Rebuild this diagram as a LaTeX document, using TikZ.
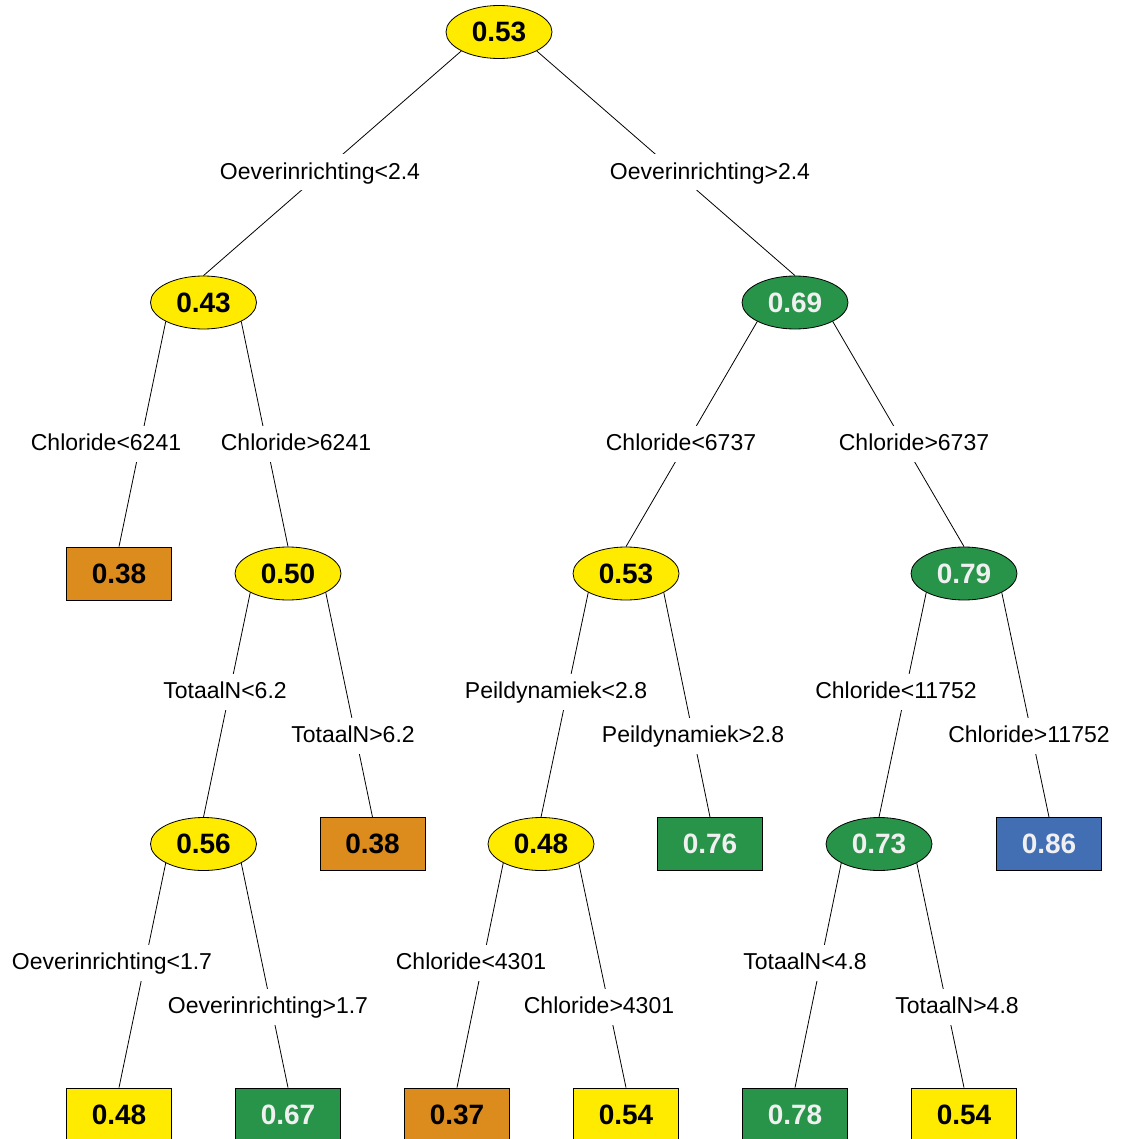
\documentclass[tikz,border=0pt]{standalone}
\usepackage{fontspec}
\setmainfont{Liberation Sans}
\usetikzlibrary{shapes.geometric}
\definecolor{cyel}{HTML}{FFEB00}
\definecolor{corg}{HTML}{DB8C1C}
\definecolor{cgrn}{HTML}{27944A}
\definecolor{cblu}{HTML}{426EB4}
\definecolor{cwht}{HTML}{F0F0F0}
\begin{document}
\begin{tikzpicture}[x=1pt,y=-1pt,
  inner/.style={ellipse,draw,line width=0.8pt,minimum width=106pt,minimum height=53pt,inner sep=0pt,font=\fontsize{28}{30}\selectfont\bfseries},
  leafbox/.style={rectangle,draw,line width=0.8pt,minimum width=105pt,minimum height=53pt,inner sep=0pt,font=\fontsize{28}{30}\selectfont\bfseries},
  yel/.style={fill=cyel,text=black},
  org/.style={fill=corg,text=black},
  grn/.style={fill=cgrn,text=cwht},
  blu/.style={fill=cblu,text=cwht},
  split/.style={fill=white,inner xsep=2pt,inner ysep=0pt,text height=25pt,text depth=11pt,yshift=-1.5pt,font=\fontsize{23}{26}\selectfont},
  branch/.style={line width=0.8pt}]
\useasboundingbox (0,0) rectangle (1120,1139);
% internal nodes
\node[inner,yel] (n0) at (499,32) {0.53};
\node[inner,yel] (n1) at (203.5,302.5) {0.43};
\node[inner,grn] (n2) at (795,302.5) {0.69};
\node[inner,yel] (n3) at (288,573.5) {0.50};
\node[inner,yel] (n4) at (626,573.5) {0.53};
\node[inner,grn] (n5) at (964,573.5) {0.79};
\node[inner,yel] (n6) at (203.5,844) {0.56};
\node[inner,yel] (n7) at (541,844) {0.48};
\node[inner,grn] (n8) at (879,844) {0.73};
% leaves
\node[leafbox,org] (l1) at (119,573.5) {0.38};
\node[leafbox,org] (l2) at (372.5,844) {0.38};
\node[leafbox,grn] (l3) at (710,844) {0.76};
\node[leafbox,blu] (l4) at (1049,844) {0.86};
\node[leafbox,yel] (l5) at (119,1114.5) {0.48};
\node[leafbox,grn] (l6) at (288,1114.5) {0.67};
\node[leafbox,org] (l7) at (457,1114.5) {0.37};
\node[leafbox,yel] (l8) at (626,1114.5) {0.54};
\node[leafbox,grn] (l9) at (795,1114.5) {0.78};
\node[leafbox,yel] (l10) at (964,1114.5) {0.54};
% branches
\draw[branch] (n0.south west) -- (n1.north);
\draw[branch] (n0.south east) -- (n2.north);
\draw[branch] (n1.south west) -- (l1.north);
\draw[branch] (n1.south east) -- (n3.north);
\draw[branch] (n2.south west) -- (n4.north);
\draw[branch] (n2.south east) -- (n5.north);
\draw[branch] (n3.south west) -- (n6.north);
\draw[branch] (n3.south east) -- (l2.north);
\draw[branch] (n4.south west) -- (n7.north);
\draw[branch] (n4.south east) -- (l3.north);
\draw[branch] (n5.south west) -- (n8.north);
\draw[branch] (n5.south east) -- (l4.north);
\draw[branch] (n6.south west) -- (l5.north);
\draw[branch] (n6.south east) -- (l6.north);
\draw[branch] (n7.south west) -- (l7.north);
\draw[branch] (n7.south east) -- (l8.north);
\draw[branch] (n8.south west) -- (l9.north);
\draw[branch] (n8.south east) -- (l10.north);
% split labels
\node[split] (s1) at (320,171) {Oeverinrichting<2.4};
\node[split] (s2) at (710,171) {Oeverinrichting>2.4};
\node[split] (s3) at (106,442) {Chloride<6241};
\node[split] (s4) at (296,442) {Chloride>6241};
\node[split] (s5) at (681,442) {Chloride<6737};
\node[split] (s6) at (914,442) {Chloride>6737};
\node[split] (s7) at (225,690) {TotaalN<6.2};
\node[split] (s8) at (353,734) {TotaalN>6.2};
\node[split] (s9) at (556,690) {Peildynamiek<2.8};
\node[split] (s10) at (693,734) {Peildynamiek>2.8};
\node[split] (s11) at (896,690) {Chloride<11752};
\node[split] (s12) at (1029,734) {Chloride>11752};
\node[split] (s13) at (112,961) {Oeverinrichting<1.7};
\node[split] (s14) at (268,1005) {Oeverinrichting>1.7};
\node[split] (s15) at (471,961) {Chloride<4301};
\node[split] (s16) at (599,1005) {Chloride>4301};
\node[split] (s17) at (805,961) {TotaalN<4.8};
\node[split] (s18) at (957,1005) {TotaalN>4.8};
\end{tikzpicture}
\end{document}
